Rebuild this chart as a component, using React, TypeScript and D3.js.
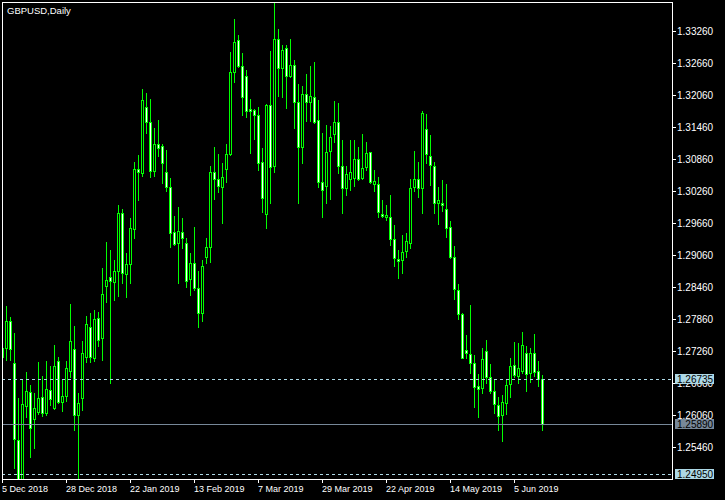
import * as d3 from "d3";

const chartTitle = "GBPUSD,Daily";

// daily OHLC, one entry per bar
const opens = [
  1.2732, 1.2732, 1.2782, 1.2703, 1.2559, 1.2484, 1.2623, 1.2649, 1.2598, 1.2612,
  1.2640, 1.2610, 1.2653, 1.2619, 1.2707, 1.2630, 1.2642, 1.2688, 1.2730, 1.2606,
  1.2638, 1.2715, 1.2771, 1.2713, 1.2788, 1.2750, 1.2848, 1.2865, 1.2855, 1.2876,
  1.2985, 1.2870, 1.2889, 1.2955, 1.3067, 1.3060, 1.3183, 1.3155, 1.3063, 1.3114,
  1.3110, 1.3062, 1.3033, 1.2949, 1.2928, 1.2949, 1.2928, 1.2861, 1.2891, 1.2844,
  1.2797, 1.2902, 1.2921, 1.3062, 1.3048, 1.3033, 1.3067, 1.3095, 1.3249, 1.3309,
  1.3260, 1.3242, 1.3180, 1.3178, 1.3168, 1.3080, 1.2983, 1.3187, 1.3073, 1.3311,
  1.3257, 1.3294, 1.3242, 1.3262, 1.3193, 1.3108, 1.3208, 1.3193, 1.3202, 1.3159,
  1.3043, 1.3035, 1.3101, 1.3133, 1.3155, 1.3073, 1.3032, 1.3048, 1.3050, 1.3086,
  1.3050, 1.3071, 1.3099, 1.3039, 1.3039, 1.2983, 1.2977, 1.2977, 1.2936, 1.2898,
  1.2897, 1.2913, 1.2928, 1.3033, 1.3048, 1.3032, 1.3142, 1.3092, 1.3073, 1.3003,
  1.3003, 1.2992, 1.2958, 1.2902, 1.2840, 1.2795, 1.2728, 1.2720, 1.2703, 1.2660,
  1.2657, 1.2726, 1.2677, 1.2651, 1.2625, 1.2606, 1.2629, 1.2664, 1.2700, 1.2679,
  1.2688, 1.2722, 1.2685, 1.2722, 1.2688, 1.2673,
];
const highs = [
  1.2737, 1.2810, 1.2790, 1.2760, 1.2638, 1.2672, 1.2687, 1.2662, 1.2647, 1.2705,
  1.2679, 1.2707, 1.2698, 1.2737, 1.2715, 1.2672, 1.2707, 1.2814, 1.2773, 1.2647,
  1.2745, 1.2792, 1.2797, 1.2803, 1.2799, 1.2882, 1.2930, 1.2915, 1.2897, 1.3000,
  1.2992, 1.2910, 1.2975, 1.3080, 1.3093, 1.3217, 1.3210, 1.3198, 1.3144, 1.3159,
  1.3114, 1.3103, 1.3050, 1.2979, 1.2996, 1.2975, 1.2938, 1.2910, 1.2958, 1.2876,
  1.2897, 1.2938, 1.3073, 1.3108, 1.3095, 1.3078, 1.3114, 1.3287, 1.3348, 1.3318,
  1.3285, 1.3253, 1.3198, 1.3180, 1.3183, 1.3107, 1.3189, 1.3288, 1.3378, 1.3330,
  1.3300, 1.3300, 1.3311, 1.3272, 1.3227, 1.3223, 1.3245, 1.3260, 1.3268, 1.3197,
  1.3135, 1.3150, 1.3148, 1.3195, 1.3191, 1.3122, 1.3073, 1.3122, 1.3122, 1.3108,
  1.3133, 1.3118, 1.3099, 1.3065, 1.3052, 1.3009, 1.3000, 1.3018, 1.2962, 1.2915,
  1.2943, 1.2947, 1.3048, 1.3101, 1.3080, 1.3176, 1.3170, 1.3131, 1.3080, 1.3033,
  1.3047, 1.3039, 1.2970, 1.2923, 1.2852, 1.2797, 1.2756, 1.2812, 1.2718, 1.2683,
  1.2732, 1.2747, 1.2702, 1.2672, 1.2640, 1.2643, 1.2673, 1.2713, 1.2743, 1.2741,
  1.2762, 1.2735, 1.2732, 1.2758, 1.2707, 1.2681,
];
const lows = [
  1.2705, 1.2709, 1.2709, 1.2507, 1.2478, 1.2477, 1.2602, 1.2527, 1.2544, 1.2608,
  1.2604, 1.2606, 1.2625, 1.2617, 1.2629, 1.2613, 1.2632, 1.2677, 1.2578, 1.2440,
  1.2615, 1.2705, 1.2705, 1.2707, 1.2735, 1.2709, 1.2818, 1.2666, 1.2822, 1.2829,
  1.2853, 1.2827, 1.2853, 1.2938, 1.3009, 1.3054, 1.3135, 1.3052, 1.3054, 1.3092,
  1.3041, 1.3026, 1.2921, 1.2925, 1.2853, 1.2919, 1.2846, 1.2831, 1.2840, 1.2771,
  1.2782, 1.2891, 1.2893, 1.3011, 1.3024, 1.2966, 1.3043, 1.3093, 1.3230, 1.3259,
  1.3168, 1.3165, 1.3097, 1.3123, 1.3065, 1.2987, 1.2957, 1.3003, 1.3062, 1.3204,
  1.3202, 1.3182, 1.3240, 1.3144, 1.3003, 1.3078, 1.3157, 1.3157, 1.3154, 1.3033,
  1.2977, 1.3003, 1.3011, 1.3118, 1.3060, 1.2985, 1.3018, 1.3028, 1.3035, 1.3047,
  1.3048, 1.3065, 1.3041, 1.3026, 1.2977, 1.2977, 1.2972, 1.2925, 1.2885, 1.2863,
  1.2872, 1.2902, 1.2919, 1.3026, 1.3015, 1.2985, 1.3078, 1.3037, 1.2985, 1.2964,
  1.2988, 1.2940, 1.2900, 1.2823, 1.2786, 1.2713, 1.2713, 1.2685, 1.2621, 1.2602,
  1.2647, 1.2666, 1.2647, 1.2610, 1.2578, 1.2557, 1.2608, 1.2640, 1.2677, 1.2666,
  1.2685, 1.2651, 1.2668, 1.2679, 1.2660, 1.2578,
];
const closes = [
  1.2715, 1.2782, 1.2730, 1.2561, 1.2484, 1.2627, 1.2651, 1.2582, 1.2619, 1.2638,
  1.2610, 1.2655, 1.2636, 1.2698, 1.2630, 1.2642, 1.2694, 1.2745, 1.2606, 1.2629,
  1.2722, 1.2777, 1.2715, 1.2786, 1.2747, 1.2833, 1.2859, 1.2857, 1.2876, 1.2985,
  1.2872, 1.2889, 1.2957, 1.3067, 1.3062, 1.3197, 1.3155, 1.3063, 1.3114, 1.3107,
  1.3078, 1.3033, 1.2947, 1.2927, 1.2951, 1.2938, 1.2857, 1.2891, 1.2844, 1.2797,
  1.2885, 1.2921, 1.3062, 1.3048, 1.3035, 1.3052, 1.3095, 1.3249, 1.3305, 1.3260,
  1.3202, 1.3176, 1.3176, 1.3168, 1.3078, 1.3013, 1.3187, 1.3071, 1.3311, 1.3257,
  1.3290, 1.3242, 1.3262, 1.3193, 1.3108, 1.3208, 1.3193, 1.3204, 1.3155, 1.3043,
  1.3028, 1.3099, 1.3127, 1.3155, 1.3073, 1.3032, 1.3058, 1.3062, 1.3086, 1.3048,
  1.3069, 1.3097, 1.3043, 1.3045, 1.2987, 1.2979, 1.2981, 1.2936, 1.2900, 1.2895,
  1.2912, 1.2932, 1.3032, 1.3048, 1.3032, 1.3172, 1.3095, 1.3075, 1.3003, 1.3009,
  1.3000, 1.2957, 1.2902, 1.2842, 1.2795, 1.2713, 1.2722, 1.2703, 1.2658, 1.2655,
  1.2711, 1.2677, 1.2651, 1.2627, 1.2604, 1.2630, 1.2662, 1.2698, 1.2681, 1.2694,
  1.2737, 1.2683, 1.2722, 1.2687, 1.2673, 1.2589,
];

// one date label every 16 bars
const dateLabels = [
  "5 Dec 2018", "28 Dec 2018", "22 Jan 2019", "13 Feb 2019", "7 Mar 2019",
  "29 Mar 2019", "22 Apr 2019", "14 May 2019", "5 Jun 2019",
];
const barsPerLabel = 16;

const priceTicks = [
  1.3326, 1.3266, 1.3206, 1.3146, 1.3086, 1.3026, 1.2966, 1.2906, 1.2846,
  1.2786, 1.2726, 1.2666, 1.2606, 1.2546,
];

const dashedLevels = [1.26735, 1.2495];
const bidPrice = 1.2589;

const W = 725;
const H = 500;
const left = 2;
const right = 672;
const top = 2;
const bottom = 479;
const barStep = 4;
const font = "'Liberation Sans', Arial, sans-serif";
const green = "#00ff00";

export default function App() {
  const x = d3
    .scaleLinear()
    .domain([0, (right - left) / barStep])
    .range([left, right]);
  const y = d3.scaleLinear().domain([1.2486, 1.3380375]).range([bottom, top]);
  const py = (v: number) => Math.round(y(v));

  const bars = opens.map((o, i) => ({
    i,
    o,
    h: highs[i],
    l: lows[i],
    c: closes[i],
  }));

  return (
    <svg
      width={W}
      height={H}
      style={{ position: "absolute", left: 0, top: 0, display: "block" }}
      shapeRendering="crispEdges"
    >
      <defs>
        <clipPath id="plot">
          <rect x={left + 1} y={top + 1} width={right - left - 1} height={bottom - top - 1} />
        </clipPath>
      </defs>
      <rect x={0} y={0} width={W} height={H} fill="#000" />

      <g clipPath="url(#plot)">
        {bars.map((b) => {
          const cx = x(b.i);
          const yo = py(b.o);
          const yc = py(b.c);
          const bodyTop = Math.min(yo, yc);
          const bodyBot = Math.max(yo, yc);
          const bull = b.c > b.o;
          return (
            <g key={b.i}>
              <line
                x1={cx + 0.5}
                x2={cx + 0.5}
                y1={py(b.h)}
                y2={py(b.l) + 1}
                stroke={green}
              />
              <rect
                x={cx - 0.5}
                y={bodyTop + 0.5}
                width={2}
                height={bodyBot - bodyTop}
                fill={bull ? "#000" : "#fff"}
                stroke={green}
              />
            </g>
          );
        })}

        {dashedLevels.map((v) => (
          <line
            key={v}
            x1={left}
            x2={right}
            y1={py(v) + 0.5}
            y2={py(v) + 0.5}
            stroke="#add8e6"
            strokeDasharray="3,3"
          />
        ))}
        <line
          x1={left}
          x2={right}
          y1={py(bidPrice) + 0.5}
          y2={py(bidPrice) + 0.5}
          stroke="#778899"
        />
      </g>

      {/* frame */}
      <rect
        x={left + 0.5}
        y={top + 0.5}
        width={right - left}
        height={bottom - top}
        fill="none"
        stroke="#fff"
      />

      <text x={7} y={13.5} fill="#fff" fontFamily={font} fontSize={9.5}>
        {chartTitle}
      </text>

      {/* price axis */}
      {priceTicks.map((v) => (
        <g key={v}>
          <line x1={right} x2={right + 4} y1={py(v) + 0.5} y2={py(v) + 0.5} stroke="#fff" />
          <text x={right + 5} y={py(v) + 3.5} fill="#fff" fontFamily={font} fontSize={10}>
            {v.toFixed(5)}
          </text>
        </g>
      ))}

      {[...dashedLevels, bidPrice].map((v) => (
        <g key={"lbl" + v}>
          <rect
            x={right + 3}
            y={py(v) - 5}
            width={39}
            height={10}
            fill={v === bidPrice ? "#778899" : "#add8e6"}
          />
          <text x={right + 5} y={py(v) + 3.5} fill="#000" fontFamily={font} fontSize={10}>
            {v.toFixed(5)}
          </text>
        </g>
      ))}

      {/* time axis */}
      {dateLabels.map((d, k) => {
        const tx = x(k * barsPerLabel);
        return (
          <g key={d}>
            <line x1={tx + 0.5} x2={tx + 0.5} y1={bottom} y2={bottom + 4} stroke="#fff" />
            <text x={tx} y={492} fill="#fff" fontFamily={font} fontSize={9}>
              {d}
            </text>
          </g>
        );
      })}
    </svg>
  );
}
